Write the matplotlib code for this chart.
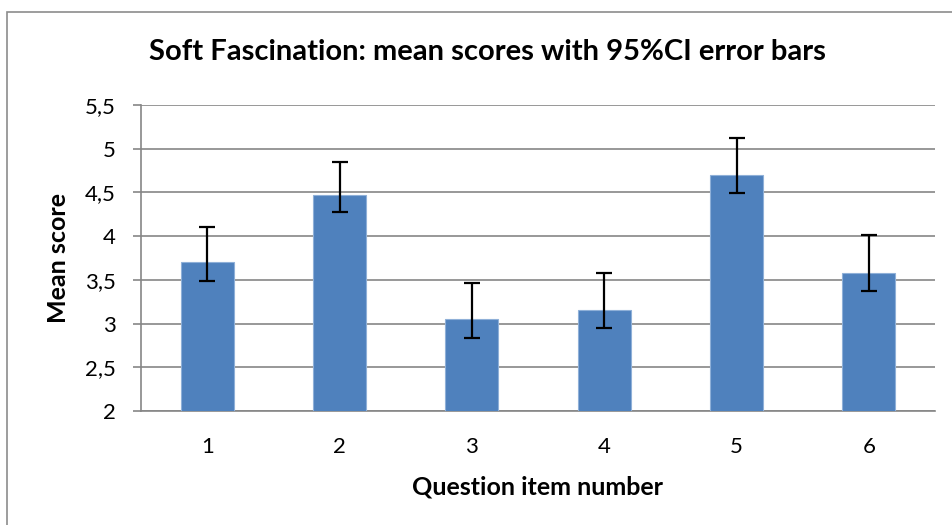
import numpy as np
import matplotlib
matplotlib.use('Agg')
import matplotlib.pyplot as plt
from matplotlib.patches import Rectangle
from matplotlib.ticker import FuncFormatter

items = [1, 2, 3, 4, 5, 6]
means = [3.70, 4.47, 3.05, 3.16, 4.70, 3.58]
ci_low = [3.49, 4.28, 2.84, 2.95, 4.49, 3.37]
ci_high = [4.11, 4.85, 3.46, 3.58, 5.12, 4.01]

plt.rcParams['font.family'] = ['Lato', 'DejaVu Sans']

fig = plt.figure(figsize=(9.52, 5.25), dpi=100)
ax = fig.add_axes([141/952, 1 - 411/525, (935-141)/952, (411-105)/525])

# chart border (Excel style)
fig.patches.append(Rectangle((7/952, -0.1), 1.0, 1.1 - 12/525, transform=fig.transFigure,
                             fill=False, edgecolor='#8c8c8c', linewidth=1.2))

m = np.array(means)
yerr = [m - np.array(ci_low), np.array(ci_high) - m]
ax.bar(items, means, width=0.4, color='#4F81BD', edgecolor='#8FB0D8', linewidth=0.8, zorder=3)
ax.errorbar(items, means, yerr=yerr, fmt='none', ecolor='black', elinewidth=1.6,
            capsize=6, capthick=1.6, zorder=4)

ax.set_xlim(0.5, 6.5)
ax.set_ylim(2, 5.5)
ax.set_yticks(np.arange(2, 5.51, 0.5))
ax.yaxis.set_major_formatter(FuncFormatter(lambda v, p: ('%g' % v).replace('.', ',')))
ax.set_xticks(items)
ax.grid(axis='y', color='#868686', linewidth=1.2, zorder=0)
ax.set_axisbelow(True)

for s in ['top', 'right']:
    ax.spines[s].set_visible(False)
ax.spines['left'].set_color('#868686')
ax.spines['bottom'].set_color('#868686')
ax.spines['left'].set_linewidth(1.2)
ax.spines['bottom'].set_linewidth(1.2)
ax.tick_params(axis='y', length=6, width=1.2, color='#868686', labelsize=16, pad=12)
ax.tick_params(axis='x', length=0, labelsize=16, pad=19)

ax.set_xlabel('Question item number', fontsize=18, fontweight='bold', va='center')
ax.set_ylabel('Mean score', fontsize=18, fontweight='bold', va='center')
ax.xaxis.set_label_coords(0.5, -(487 - 411) / 306)
ax.yaxis.set_label_coords(-(141 - 59) / 794, 0.5)
fig.text(487/952, 1 - 52/525, 'Soft Fascination: mean scores with 95%CI error bars',
         ha='center', va='center', fontsize=21, fontweight='bold')

fig.savefig('out.png', dpi=100, facecolor='white')
